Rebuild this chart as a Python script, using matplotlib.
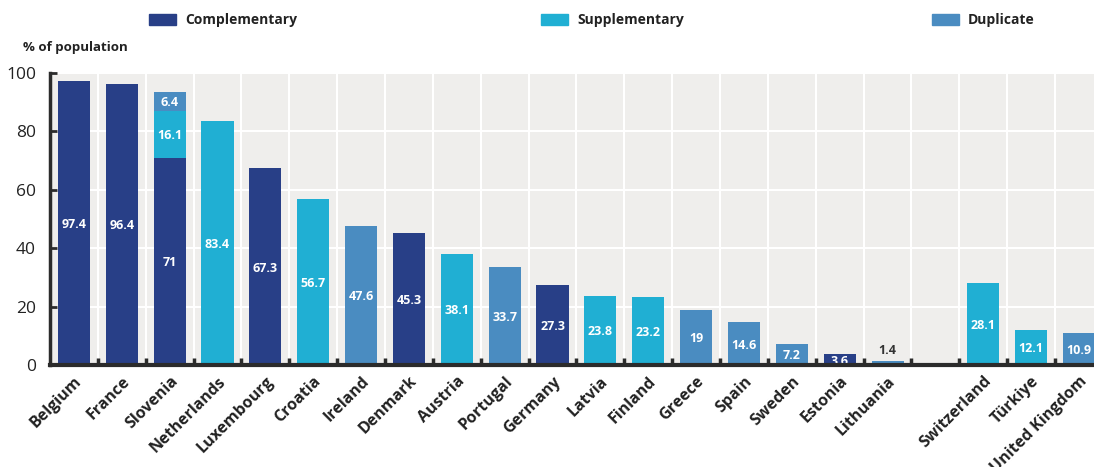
import matplotlib.pyplot as plt
import numpy as np

plt.rcParams['font.family'] = ['Open Sans', 'DejaVu Sans']

# share of population covered by private health insurance, by type
countries = ["Belgium", "France", "Slovenia", "Netherlands", "Luxembourg", "Croatia",
             "Ireland", "Denmark", "Austria", "Portugal", "Germany", "Latvia", "Finland",
             "Greece", "Spain", "Sweden", "Estonia", "Lithuania", "",
             "Switzerland", "Türkiye", "United Kingdom"]
complementary = [97.4, 96.4, 71, 0, 67.3, 0, 0, 45.3, 0, 0, 27.3, 0, 0,
                 0, 0, 0, 3.6, 0, 0, 0, 0, 0]
supplementary = [0, 0, 16.1, 83.4, 0, 56.7, 0, 0, 38.1, 0, 0, 23.8, 23.2,
                 0, 0, 0, 0, 0, 0, 28.1, 12.1, 0]
duplicate = [0, 0, 6.4, 0, 0, 0, 47.6, 0, 0, 33.7, 0, 0, 0,
             19, 14.6, 7.2, 0, 1.4, 0, 0, 0, 10.9]

series = [("Complementary", complementary, "#283f87"),
          ("Supplementary", supplementary, "#20afd3"),
          ("Duplicate", duplicate, "#4a8cc1")]

fig = plt.figure(figsize=(10.94, 4.67), dpi=100)
slot = 47.86 / 1094
ax = fig.add_axes([50 / 1094, 102 / 467, slot * len(countries), 292 / 467])
ax.set_facecolor("#efeeec")

x = np.arange(len(countries))
bottom = np.zeros(len(countries))
for name, vals, color in series:
    vals = np.array(vals, dtype=float)
    ax.bar(x, vals, width=0.67, bottom=bottom, color=color, zorder=2)
    for xi, b, v in zip(x, bottom, vals):
        if v <= 0:
            continue
        if v < 3:
            ax.text(xi, b + v + 1.2, f"{v:g}", ha="center", va="bottom",
                    fontsize=9, fontweight="bold", color="#333333", zorder=3)
        else:
            ax.text(xi, b + v / 2 - 0.5, f"{v:g}", ha="center", va="center",
                    fontsize=9, fontweight="bold", color="white", zorder=3)
    bottom += vals

ax.set_xlim(-0.5, len(countries) - 0.5)
ax.set_ylim(0, 100)
ax.set_yticks(np.arange(0, 101, 20))
ax.set_xticks(x)
ax.set_xticklabels(countries, rotation=45, ha="right", rotation_mode="anchor",
                   fontsize=11.5, fontweight="bold", color="#222222")
ax.set_xticks(np.arange(0.5, len(countries) - 0.5), minor=True)

ax.tick_params(axis="x", which="major", length=0, pad=6)
ax.tick_params(axis="x", which="minor", direction="in", length=5, width=2.5,
               color="#2b2b2b")
ax.tick_params(axis="y", direction="in", length=5, width=2, color="#2b2b2b",
               labelsize=12.5, labelcolor="#222222", pad=10)

ax.grid(axis="y", which="major", color="white", linewidth=1.5, zorder=1)
ax.grid(axis="x", which="minor", color="white", linewidth=1.5, zorder=1)
ax.grid(axis="x", which="major", visible=False)
ax.set_axisbelow(True)

for side in ["top", "right"]:
    ax.spines[side].set_visible(False)
ax.spines["left"].set_linewidth(2.5)
ax.spines["left"].set_color("#2b2b2b")
ax.spines["bottom"].set_linewidth(3)
ax.spines["bottom"].set_color("#2b2b2b")
ax.spines["bottom"].set_zorder(4)

fig.text(23 / 1094, 1 - 48 / 467, "% of population", fontsize=9.5,
         fontweight="bold", color="#222222", va="center", ha="left")

# legend laid out across the top
legend_x = [149, 541, 932]
for (name, _, color), lx in zip(series, legend_x):
    fig.patches.append(plt.Rectangle((lx / 1094, 1 - 25 / 467), 27 / 1094, 11 / 467,
                                     transform=fig.transFigure, color=color))
    fig.text((lx + 36) / 1094, 1 - 20 / 467, name, fontsize=10,
             fontweight="bold", color="#222222", va="center", ha="left")

fig.savefig("out.png", dpi=100)
